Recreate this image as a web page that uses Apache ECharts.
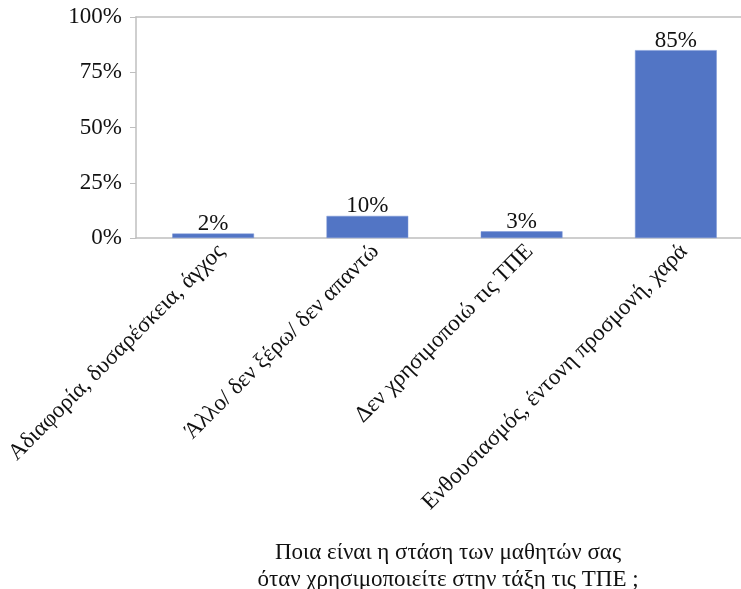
<!DOCTYPE html>
<html><head><meta charset="utf-8">
<script src="https://cdn.jsdelivr.net/npm/echarts@6/dist/echarts.min.js"></script>
<style>html,body{margin:0;padding:0;background:#fff}#c{width:741px;height:589px}</style>
</head><body><div id="c"></div>
<script>
const categories = ["Αδιαφορία, δυσαρέσκεια, άγχος", "Άλλο/ δεν ξέρω/ δεν απαντώ", "Δεν χρησιμοποιώ τις ΤΠΕ", "Ενθουσιασμός, έντονη προσμονή, χαρά"];
const values = [2, 10, 3, 85];
const titleLines = ["Ποια είναι η στάση των μαθητών σας", "όταν χρησιμοποιείτε στην τάξη τις ΤΠΕ ;"];
const font = "'Liberation Serif', 'Times New Roman', serif";
const chart = echarts.init(document.getElementById('c'));
chart.setOption({
  animation: false,
  grid: {left: 136, top: 17, width: 617, height: 221, outerBoundsMode: 'none', containLabel: false},
  title: {
    text: titleLines.join('\n'), left: 443, textAlign: 'center', top: 534,
    textStyle: {fontFamily: font, fontSize: 23, fontWeight: 'normal', color: '#111', lineHeight: 27}
  },
  xAxis: [{
    type: 'category', data: categories,
    axisLine: {lineStyle: {color: '#bfbfbf', width: 1.5}},
    axisTick: {show: false},
    axisLabel: {rotate: 45, interval: 0, fontFamily: font, fontSize: 23, color: '#111', margin: 2, verticalAlign: 'top'}
  }, {
    type: 'category', position: 'top', data: categories,
    axisLine: {show: true, lineStyle: {color: '#bfbfbf', width: 1.5}},
    axisTick: {show: false}, axisLabel: {show: false}
  }],
  yAxis: {
    type: 'value', min: 0, max: 100, interval: 25,
    axisLine: {show: true, lineStyle: {color: '#bfbfbf', width: 1.5}},
    axisTick: {show: true, length: 6, lineStyle: {color: '#bfbfbf'}},
    splitLine: {show: false},
    axisLabel: {formatter: '{value}%', fontFamily: font, fontSize: 23, color: '#111', margin: 14}
  },
  series: [{
    type: 'bar', data: values, barWidth: '53%', xAxisIndex: 0,
    itemStyle: {color: '#5275c5', borderColor: '#7d97d6', borderWidth: 0.5},
    label: {show: true, position: 'top', formatter: '{c}%', fontFamily: font, fontSize: 23, color: '#111', distance: -2}
  }]
});
</script></body></html>
